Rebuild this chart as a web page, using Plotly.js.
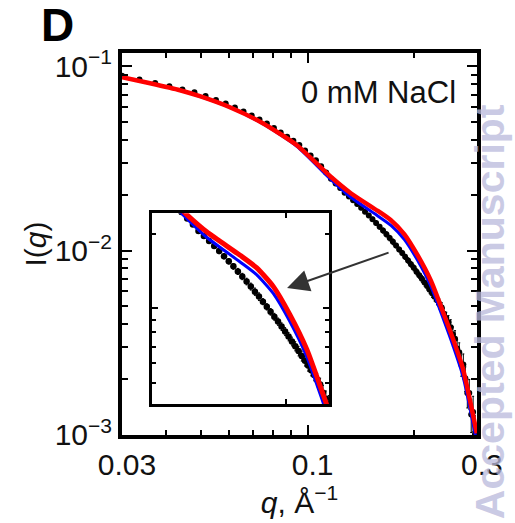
<!DOCTYPE html>
<html>
<head>
<meta charset="utf-8">
<script src="https://cdn.plot.ly/plotly-3.0.1.min.js"></script>
<style>html,body{margin:0;padding:0;background:#fff;}#chart{width:515px;height:523px;}</style>
</head>
<body>
<div id="chart"></div>
<script>
// ---- data ----
var qData = [0.0300,0.0336,0.0372,0.0408,0.0444,0.0480,0.0516,0.0552,0.0588,0.0624,
             0.0660,0.0696,0.0732,0.0768,0.0804,0.0840,0.0876,0.0912,0.0948,0.0984,
             0.1020,0.1056,0.1092,0.1128,0.1164,0.1200,0.1236,0.1272,0.1308,0.1344,
             0.1380,0.1416,0.1452,0.1488,0.1524,0.1560,0.1596,0.1632,0.1668,0.1704,
             0.1740,0.1776,0.1812,0.1848,0.1884,0.1920,0.1956,0.1992,0.2028,0.2064,
             0.2100,0.2136,0.2172,0.2208,0.2244,0.2280,0.2316,0.2352,0.2388,0.2424,
             0.2460,0.2496,0.2532,0.2568,0.2604,0.2640,0.2676,0.2712,0.2748,0.2784,
             0.2820,0.2856,0.2892,0.2928,0.2964];
var iData = [0.0888,0.0847,0.0812,0.0779,0.0748,0.0722,0.0689,0.0657,0.0628,0.0598,
             0.0568,0.0540,0.0515,0.0489,0.0462,0.0437,0.0415,0.0395,0.0374,0.0349,
             0.0328,0.0309,0.0287,0.0265,0.02455,0.02312,0.02188,0.02058,0.01964,0.01875,
             0.01789,0.01706,0.01627,0.01552,0.01480,0.01412,0.01347,0.01285,0.01226,0.01169,
             0.01116,0.01065,0.01015,0.00969,0.00925,0.00884,0.00844,0.00806,0.00769,0.00735,
             0.00703,0.00672,0.00642,0.00614,0.00587,0.00562,0.00537,0.00514,0.00492,0.00455,
             0.00431,0.00409,0.00384,0.00352,0.00333,0.00294,0.00281,0.00240,0.00241,0.00203,
             0.00169,0.00169,0.00129,0.00133,0.00101];
var iErr  = [0.0009,0.0009,0.0009,0.0009,0.0009,0.0008,0.0008,0.0008,0.0008,0.0007,
             0.0007,0.0006,0.0006,0.0006,0.0006,0.0006,0.0005,0.0005,0.0005,0.0005,
             0.0005,0.0004,0.0004,0.0004,0.0004,0.0004,0.0004,0.0004,0.0004,0.0004,
             0.0004,0.0004,0.0004,0.0004,0.0004,0.0004,0.0004,0.0004,0.0004,0.0004,
             0.0004,0.0003,0.0003,0.0003,0.0003,0.0003,0.0003,0.0003,0.0003,0.0003,
             0.0003,0.0003,0.0003,0.0003,0.0003,0.00029,0.00028,0.00032,0.00030,0.00033,
             0.00032,0.00035,0.00038,0.00034,0.00035,0.00034,0.00035,0.00032,0.00034,0.00031,
             0.00029,0.00031,0.00026,0.00029,0.00026];

var qFit    = [0.0300,0.0360,0.0437,0.0497,0.0604,0.0748,0.0933,0.1156,0.1327,0.1578,0.1718,0.1875,0.2042,0.2228,0.2427,0.2570,0.2740,0.2999];
var redFit  = [0.08718,0.08088,0.07413,0.06878,0.05994,0.04910,0.03731,0.02541,0.02042,0.01641,0.01462,0.01225,0.00944,0.00684,0.00447,0.00331,0.00229,0.00102];
var blueFit = [0.08718,0.08088,0.07413,0.06878,0.05994,0.04876,0.03680,0.02460,0.01941,0.01542,0.01371,0.01149,0.00885,0.00638,0.00414,0.00305,0.00209,0.00091];

var xTickVals = [0.03, 0.1, 0.3];
var xTickText = ['0.03', '0.1', '0.3'];
var xMinorVals = [0.04,0.05,0.06,0.07,0.08,0.09,0.2];
var yTickVals = [0.001, 0.01, 0.1];
var yTickText = ['10<sup>\u22123</sup>', '10<sup>\u22122</sup>', '10<sup>\u22121</sup>'];
var yMinorVals = [0.002,0.003,0.004,0.005,0.006,0.007,0.008,0.009,0.02,0.03,0.04,0.05,0.06,0.07,0.08,0.09];
var insetXMinor = [0.2];
var insetYMajor = [0.01];
var insetYMinor = [0.005,0.006,0.007,0.008,0.009,0.02];

var FONT = 'Liberation Sans, Arial, Helvetica, sans-serif';

function traces(xa, ya, msize, rw, bw) {
  return [
    {x: qData, y: iData, xaxis: xa, yaxis: ya, type: 'scatter', mode: 'markers',
     marker: {color: '#000', size: msize},
     error_y: {type: 'data', array: iErr, visible: true, color: '#000', thickness: 1, width: 1},
     hoverinfo: 'skip'},
    {x: qFit, y: blueFit, xaxis: xa, yaxis: ya, type: 'scatter', mode: 'lines',
     line: {color: '#0000ff', width: bw, shape: 'spline', smoothing: 0.6}},
    {x: qFit, y: redFit, xaxis: xa, yaxis: ya, type: 'scatter', mode: 'lines',
     line: {color: '#ff0000', width: rw, shape: 'spline', smoothing: 0.6}}
  ];
}

var data = traces('x', 'y', 6, 4.5, 3).concat(traces('x2', 'y2', 6.5, 5, 3));

var layout = {
  width: 515, height: 523,
  margin: {l: 122, r: 38, t: 53, b: 88},
  paper_bgcolor: '#fff', plot_bgcolor: '#fff',
  showlegend: false,
  font: {family: FONT, color: '#111', size: 30},
  xaxis: {
    type: 'log', range: [Math.log10(0.03), Math.log10(0.3) + 0.0004],
    domain: [0, 1],
    showgrid: false, zeroline: false,
    showline: true, linecolor: '#000', linewidth: 4, mirror: 'allticks',
    ticks: 'inside', ticklen: 10, tickwidth: 2, tickcolor: '#000',
    tickmode: 'array', tickvals: xTickVals, ticktext: xTickText,
    tickfont: {family: FONT, size: 30, color: '#111'},
    ticklabelshift: 5,
    minor: {tickmode: 'array', tickvals: xMinorVals, ticks: 'inside', ticklen: 5, tickwidth: 2, tickcolor: '#000', showgrid: false},
    title: {text: '<i>q</i>, \u00c5<sup>\u22121</sup>', font: {family: FONT, size: 30, color: '#111'}, standoff: 0}
  },
  yaxis: {
    type: 'log', range: [-3.0004, -0.928],
    domain: [0, 1],
    showgrid: false, zeroline: false,
    showline: true, linecolor: '#000', linewidth: 4, mirror: 'allticks',
    ticks: 'inside', ticklen: 10, tickwidth: 2, tickcolor: '#000',
    tickmode: 'array', tickvals: yTickVals, ticktext: yTickText,
    tickfont: {family: FONT, size: 30, color: '#111'},
    minor: {tickmode: 'array', tickvals: yMinorVals, ticks: 'inside', ticklen: 6, tickwidth: 2, tickcolor: '#000', showgrid: false},
    title: {text: 'I(<i>q</i>)', font: {family: FONT, size: 30, color: '#111'}, standoff: 0}
  },
  xaxis2: {
    type: 'log', range: [-1, Math.log10(0.25)],
    domain: [0.0845, 0.583], anchor: 'y2',
    showgrid: false, zeroline: false, showticklabels: false,
    showline: true, linecolor: '#000', linewidth: 3, mirror: 'allticks',
    ticks: 'inside', ticklen: 5, tickwidth: 2, tickcolor: '#000',
    tickmode: 'array', tickvals: insetXMinor
  },
  yaxis2: {
    type: 'log', range: [Math.log10(0.0041), Math.log10(0.0243)],
    domain: [0.0811, 0.5807], anchor: 'x2',
    showgrid: false, zeroline: false, showticklabels: false,
    showline: true, linecolor: '#000', linewidth: 3, mirror: 'allticks',
    ticks: 'inside', ticklen: 6, tickwidth: 2, tickcolor: '#000',
    tickmode: 'array', tickvals: insetYMajor,
    minor: {tickmode: 'array', tickvals: insetYMinor, ticks: 'inside', ticklen: 4, tickwidth: 2, tickcolor: '#000', showgrid: false}
  },
  annotations: [
    {text: '<b>D</b>', xref: 'paper', yref: 'paper', x: -0.235, y: 1.0, xanchor: 'left', yanchor: 'bottom',
     showarrow: false, font: {family: FONT, size: 46, color: '#000'}},
    {text: '0 mM NaCl', xref: 'paper', yref: 'paper', x: 0.947, y: 0.897, xanchor: 'right', yanchor: 'middle',
     showarrow: false, font: {family: FONT, size: 31, color: '#111'}},
    {text: '', xref: 'paper', yref: 'paper', x: 0.465, y: 0.3845, ax: 103, ay: -36,
     showarrow: true, arrowhead: 2, arrowsize: 2.2, arrowwidth: 2, arrowcolor: '#333', standoff: 0, startstandoff: 0},
    {text: '<b>Accepted Manuscript</b>', xref: 'paper', yref: 'paper', x: 1.037, y: 0.322, xanchor: 'center', yanchor: 'middle',
     textangle: -90, showarrow: false, font: {family: FONT, size: 41, color: 'rgba(185,185,220,0.75)'}}
  ]
};

Plotly.newPlot('chart', data, layout, {displayModeBar: false, staticPlot: true});
</script>
</body>
</html>
